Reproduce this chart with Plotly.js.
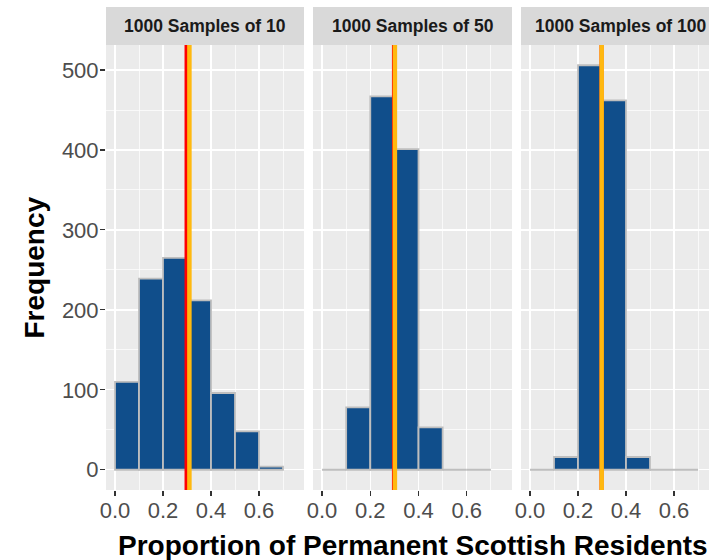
<!DOCTYPE html>
<html>
<head>
<meta charset="utf-8">
<script src="https://cdn.plot.ly/plotly-3.0.1.min.js"></script>
<style>
html,body{margin:0;padding:0;overflow:hidden;background:#fff;}
#chart{width:720px;height:560px;}
</style>
</head>
<body>
<div id="chart"></div>
<script>
// ---- data ----
const binStarts = [0.0, 0.1, 0.2, 0.3, 0.4, 0.5, 0.6];
const binWidth = 0.1;
const panelTitles = ["1000 Samples of 10", "1000 Samples of 50", "1000 Samples of 100"];
const counts10  = [110, 239, 265, 212, 96, 48, 4];
const counts50  = [0, 78, 467, 401, 53, 0, 0];
const counts100 = [0, 16, 506, 462, 16, 0, 0];
const trueProportion = [0.298, 0.298, 0.298];
const meanProportion = [0.310, 0.302, 0.2985];
const xTickVals = [0, 0.2, 0.4, 0.6];
const xTickText = ["0.0", "0.2", "0.4", "0.6"];
const yTickVals = [0, 100, 200, 300, 400, 500];
const yTickText = ["0", "100", "200", "300", "400", "500"];

const allCounts = [counts10, counts50, counts100];

// ---- layout constants ----
const W = 720, H = 560;
const panelsPx = [[106, 304], [313, 512], [521, 719]];
const panelTop = 45, panelBottom = 490, stripTop = 7;
const font = "'Liberation Sans', Arial, sans-serif";
const fillCol = "#104E8B", edgeCol = "#BEBEBE";

const traces = [];
const shapes = [];
const annotations = [];
const layout = {
  width: W, height: H,
  margin: {l: 0, r: 0, t: 0, b: 0},
  paper_bgcolor: "#ffffff",
  plot_bgcolor: "#EBEBEB",
  showlegend: false,
  bargap: 0,
  font: {family: font},
  shapes: shapes,
  annotations: annotations
};

const yDom = [1 - panelBottom / H, 1 - panelTop / H];

allCounts.forEach((cnts, i) => {
  const sfx = i === 0 ? "" : String(i + 1);
  const xa = "x" + sfx, ya = "y" + sfx;
  const mids = [], ys = [];
  const flatX = [], flatY = [];
  binStarts.forEach((s, k) => {
    if (cnts[k] > 0) { mids.push(s + binWidth / 2); ys.push(cnts[k]); }
    else { flatX.push(s, s + binWidth, null); flatY.push(0, 0, null); }
  });
  traces.push({
    type: "bar", x: mids, y: ys, width: binWidth, xaxis: xa, yaxis: ya,
    marker: {color: fillCol, line: {color: edgeCol, width: 1.8}},
    hoverinfo: "skip"
  });
  if (flatX.length) {
    traces.push({
      type: "scatter", mode: "lines", x: flatX, y: flatY, xaxis: xa, yaxis: ya,
      line: {color: edgeCol, width: 2}, hoverinfo: "skip", connectgaps: false
    });
  }
  const dom = [panelsPx[i][0] / W, panelsPx[i][1] / W];
  layout["xaxis" + sfx] = {
    domain: dom, anchor: ya, range: [-0.0375, 0.7875],
    tickvals: xTickVals, ticktext: xTickText,
    ticks: "outside", ticklen: 5, tickwidth: 1.1, tickcolor: "#333333",
    ticklabelstandoff: -4,
    tickfont: {family: font, size: 22, color: "#4D4D4D"},
    showgrid: true, gridcolor: "#FFFFFF", gridwidth: 1.3,
    minor: {tickvals: [0.1, 0.3, 0.5, 0.7], showgrid: true, gridcolor: "#FFFFFF", gridwidth: 0.7, ticks: ""},
    zeroline: false, showline: false, fixedrange: true
  };
  layout["yaxis" + sfx] = {
    domain: yDom, anchor: xa, range: [-25.3, 531.3],
    tickvals: yTickVals, ticktext: yTickText,
    ticks: i === 0 ? "outside" : "", ticklen: 5, tickwidth: 1.1, tickcolor: "#333333",
    ticklabelstandoff: -3,
    showticklabels: i === 0,
    tickfont: {family: font, size: 22, color: "#4D4D4D"},
    showgrid: true, gridcolor: "#FFFFFF", gridwidth: 1.3,
    minor: {tickvals: [50, 150, 250, 350, 450], showgrid: true, gridcolor: "#FFFFFF", gridwidth: 0.7, ticks: ""},
    zeroline: false, showline: false, fixedrange: true
  };
  // vertical reference lines
  shapes.push({type: "line", xref: xa, yref: "paper", x0: trueProportion[i], x1: trueProportion[i],
    y0: yDom[0], y1: yDom[1], line: {color: "#FF0000", width: 4}, layer: "above"});
  shapes.push({type: "line", xref: xa, yref: "paper", x0: meanProportion[i], x1: meanProportion[i],
    y0: yDom[0], y1: yDom[1], line: {color: "#FFB90F", width: 4.5}, layer: "above"});
  // strip
  shapes.push({type: "rect", xref: "paper", yref: "paper", x0: dom[0], x1: dom[1],
    y0: 1 - panelTop / H, y1: 1 - stripTop / H, fillcolor: "#D9D9D9", line: {width: 0}, layer: "below"});
  annotations.push({xref: "paper", yref: "paper", x: (dom[0] + dom[1]) / 2, y: 1 - ((panelTop + stripTop) / 2) / H,
    xanchor: "center", yanchor: "middle", showarrow: false,
    text: "<b>" + panelTitles[i] + "</b>", font: {family: font, size: 17.5, color: "#1A1A1A"}});
});

annotations.push({xref: "paper", yref: "paper", x: (panelsPx[0][0] + panelsPx[2][1]) / 2 / W, y: 1 - 545 / H,
  xanchor: "center", yanchor: "middle", showarrow: false,
  text: "<b>Proportion of Permanent Scottish Residents</b>", font: {family: font, size: 28, color: "#000000"}});
annotations.push({xref: "paper", yref: "paper", x: 34 / W, y: 1 - 267.5 / H,
  xanchor: "center", yanchor: "middle", showarrow: false, textangle: -90,
  text: "<b>Frequency</b>", font: {family: font, size: 28, color: "#000000"}});

Plotly.newPlot("chart", traces, layout, {displayModeBar: false, staticPlot: true});
</script>
</body>
</html>
